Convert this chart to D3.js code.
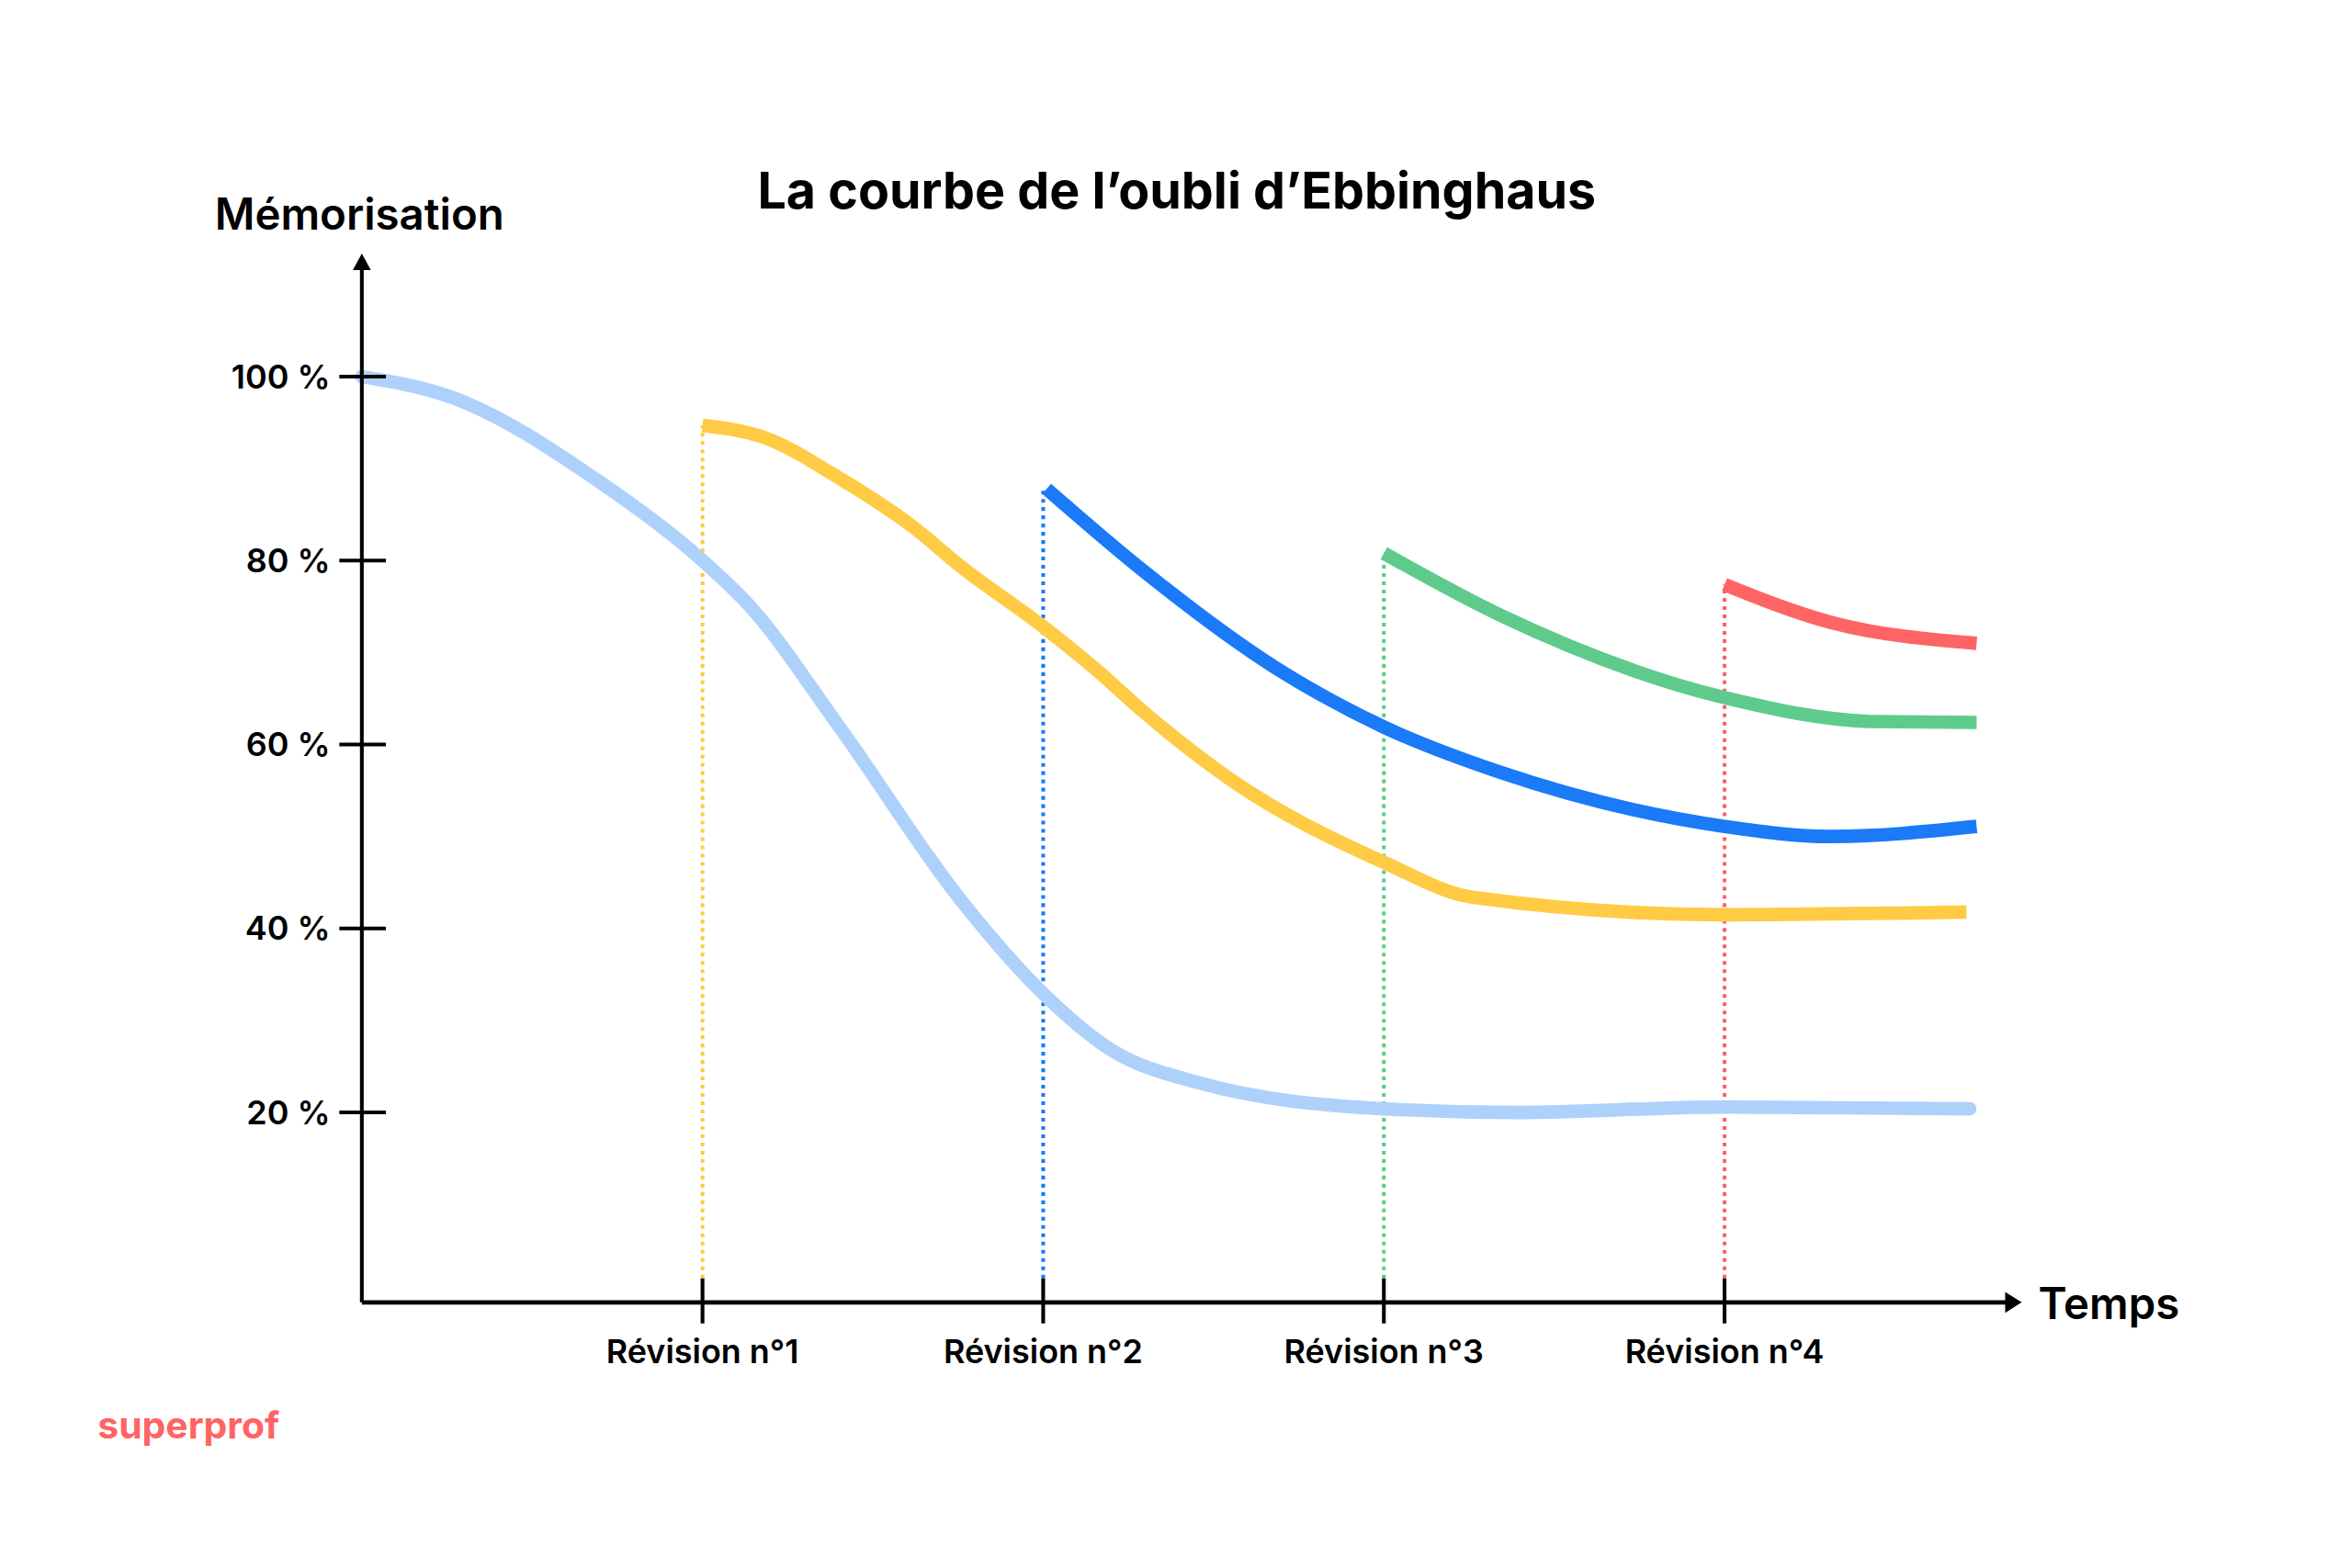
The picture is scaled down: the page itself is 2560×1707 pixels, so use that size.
<!DOCTYPE html>
<html><head><meta charset="utf-8">
<script src="https://cdn.jsdelivr.net/npm/d3@7"></script>
<style>body{margin:0;background:#fff}svg{display:block}</style>
</head><body>
<svg id="chart" width="2560" height="1707" viewBox="0 0 1567 1045"></svg>
<script>
const yTicks = [20, 40, 60, 80, 100];
const revisions = ["Révision n°1", "Révision n°2", "Révision n°3", "Révision n°4"];

// [time, memorisation %]; time unit = one revision interval
const baseCurve = [[0,100],[0.26,97.8],[0.70,88.5],[1,80],[1.14,75],[1.4,62],[1.76,43],[1.99,33.3],[2.2,26.8],[2.46,23.2],[3,20.4],[3.39,20],[4,20.6],[4.72,20.4]];
const rev1Curve = [[1,94.7],[1.18,93.4],[1.4,89],[1.62,83.6],[1.76,79.3],[1.99,73.1],[2.16,68],[2.29,63.7],[2.55,56.2],[3,47.2],[3.26,43.4],[4,41.5],[4.71,41.8]];
const rev2Curve = [[2.01,87.8],[2.29,79],[2.68,68.4],[3,61.9],[3.34,57],[4,51.1],[4.31,50],[4.74,51.1]];
const rev3Curve = [[3,80.8],[3.34,74.1],[4,65.1],[4.44,62.5],[4.74,62.4]];
const rev4Curve = [[4,77.4],[4.31,73.3],[4.74,71]];

const series = [
  {data: baseCurve, color: "#aed1fb"},
  {data: rev1Curve, color: "#ffcb44", rev: 1},
  {data: rev2Curve, color: "#1a7af8", rev: 2},
  {data: rev3Curve, color: "#5ecb8c", rev: 3},
  {data: rev4Curve, color: "#ff6464", rev: 4}
];

const svg = d3.select("#chart");
const x = d3.scaleLinear().domain([0, 1]).range([241, 468]);
const y = d3.scaleLinear().domain([0, 100]).range([864, 251]);
const font = "Inter, 'Open Sans', sans-serif";

// dotted revision guides
series.filter(s => s.rev).forEach(s => {
  svg.append("line")
    .attr("x1", x(s.rev)).attr("x2", x(s.rev))
    .attr("y1", 852).attr("y2", y(s.data[0][1]))
    .attr("stroke", s.color).attr("stroke-width", 2.5)
    .attr("stroke-dasharray", "2.5 3");
});

const line = d3.line().x(d => x(d[0])).y(d => y(d[1])).curve(d3.curveMonotoneX);
series.forEach(s => {
  svg.append("path").attr("d", line(s.data))
    .attr("fill", "none").attr("stroke", s.color)
    .attr("stroke-width", 9).attr("stroke-linecap", s.rev ? "butt" : "round");
});

// axes
svg.append("line").attr("x1", 241).attr("x2", 1338).attr("y1", 868).attr("y2", 868)
  .attr("stroke", "#000").attr("stroke-width", 3);
svg.append("path").attr("d", "M1347,868 L1336,861 L1336,875 Z").attr("fill", "#000");
svg.append("line").attr("x1", 241).attr("x2", 241).attr("y1", 868).attr("y2", 180)
  .attr("stroke", "#000").attr("stroke-width", 2.5);
svg.append("path").attr("d", "M241,169 L235,180 L247,180 Z").attr("fill", "#000");

yTicks.forEach(v => {
  svg.append("line").attr("x1", 226).attr("x2", 257).attr("y1", y(v)).attr("y2", y(v))
    .attr("stroke", "#000").attr("stroke-width", 2.5);
  svg.append("text").attr("x", 220).attr("y", y(v)).attr("dy", "0.35em")
    .attr("text-anchor", "end").attr("font-family", font).attr("font-weight", 600)
    .attr("font-size", 22).text(v + " %");
});

revisions.forEach((r, i) => {
  svg.append("line").attr("x1", x(i + 1)).attr("x2", x(i + 1)).attr("y1", 852).attr("y2", 882)
    .attr("stroke", "#000").attr("stroke-width", 2.5);
  svg.append("text").attr("x", x(i + 1)).attr("y", 901).attr("dy", "0.35em")
    .attr("text-anchor", "middle").attr("font-family", font).attr("font-weight", 600)
    .attr("font-size", 22).text(r);
});

svg.append("text").attr("x", 784).attr("y", 127).attr("dy", "0.35em").attr("text-anchor", "middle")
  .attr("font-family", font).attr("font-weight", 700).attr("font-size", 34)
  .text("La courbe de l’oubli d’Ebbinghaus");
svg.append("text").attr("x", 143).attr("y", 143).attr("dy", "0.35em")
  .attr("font-family", font).attr("font-weight", 600).attr("font-size", 29).text("Mémorisation");
svg.append("text").attr("x", 1358).attr("y", 869).attr("dy", "0.35em")
  .attr("font-family", font).attr("font-weight", 600).attr("font-size", 29).text("Temps");
svg.append("text").attr("x", 65).attr("y", 950).attr("dy", "0.35em")
  .attr("font-family", font).attr("font-weight", 700).attr("font-size", 25)
  .attr("fill", "#ff6464").text("superprof");
</script>
</body></html>
